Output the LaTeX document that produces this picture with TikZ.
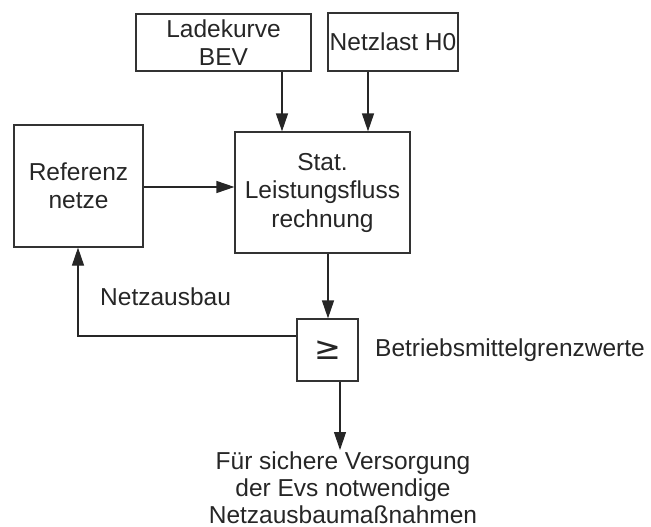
\documentclass[tikz,border=0pt]{standalone}
\usepackage{fontspec}
\setmainfont{Liberation Sans}
\usetikzlibrary{arrows.meta}
\begin{document}
\begin{tikzpicture}[x=1pt,y=-1pt,
  every node/.style={font=\fontsize{24.5}{28.5}\selectfont, text=black!85},
  block/.style={draw=black!80, line width=1.2pt, inner sep=0pt, align=center},
  flow/.style={draw=black!85, line width=1.2pt, -{Triangle[length=18pt,width=12pt]}},
  plain/.style={draw=black!85, line width=1.2pt}]
\useasboundingbox (0,0) rectangle (651,527);
% input blocks
\node[block, minimum width=175pt, minimum height=57pt] (lade) at (223.5,42.5) {Ladekurve\\BEV};
\node[block, minimum width=130pt, minimum height=58pt] (last) at (393,42) {Netzlast H0};
\node[block, minimum width=129pt, minimum height=122pt] (ref) at (78.5,186) {Referenz\\netze};
\node[block, minimum width=175pt, minimum height=121pt] (stat) at (322.5,192.5) {Stat.\\Leistungsfluss\\rechnung};
\node[block, minimum width=61pt, minimum height=62pt, font=\fontsize{32}{32}\selectfont\fontspec{DejaVu Sans}] (ge) at (327.5,350) {≥};
% labels
\node[anchor=west, inner sep=0pt] (ausbau) at (100,297) {Netzausbau};
\node[anchor=west, inner sep=0pt] (grenz) at (375,350) {Betriebsmittelgrenzwerte};
\node[anchor=north, inner sep=0pt, align=center, font=\fontsize{24.5}{26.8}\selectfont] (result) at (343,451.5) {Für sichere Versorgung\\der Evs notwendige\\Netzausbaumaßnahmen};
% connectors
\draw[flow] (lade.south -| 282,0) -- (stat.north -| 282,0);
\draw[flow] (last.south -| 368,0) -- (stat.north -| 368,0);
\draw[flow] (ref.east |- 0,187) -- (stat.west |- 0,187);
\draw[flow] (stat.south -| 328,0) -- (ge.north -| 328,0);
\coordinate (out) at (340,450);
\draw[flow] (ge.south -| out) -- (out);
\draw[flow] (ge.west |- 0,336) -- (78,336) -- (ref.south -| 78,0);
\end{tikzpicture}
\end{document}
